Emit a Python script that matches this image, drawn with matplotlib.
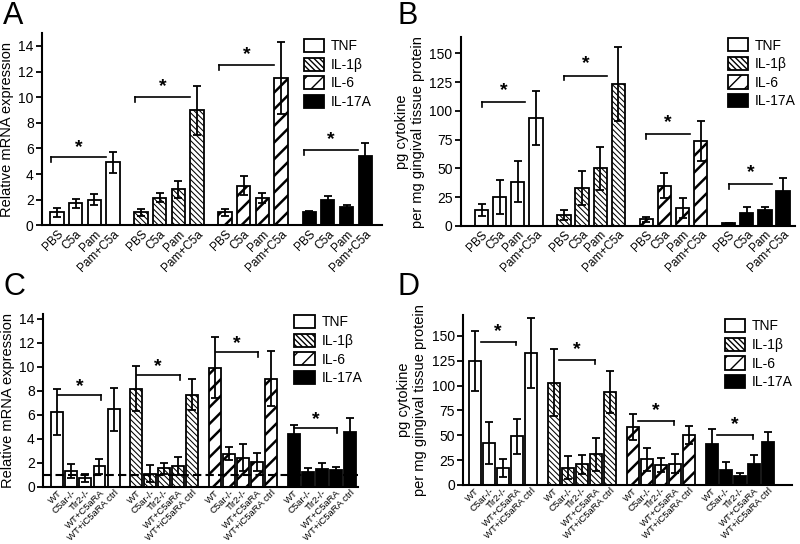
import numpy as np
import matplotlib.pyplot as plt
from matplotlib.patches import Patch

plt.rcParams['font.family'] = ['Liberation Sans', 'DejaVu Sans']

cytokines = ['TNF', 'IL-1\u03b2', 'IL-6', 'IL-17A']
groups_ab = ['PBS', 'C5a', 'Pam', 'Pam+C5a']
groups_cd = ['WT', 'C5ar-/-', 'Tlr2-/-', 'WT+C5aRA', 'WT+iC5aRA ctrl']

# panel A: relative mRNA expression
a_mean = [[1.0, 1.7, 2.0, 4.9], [1.0, 2.15, 2.8, 8.97], [1.0, 3.1, 2.15, 11.5], [1.0, 1.97, 1.45, 5.37]]
a_err = [[0.35, 0.33, 0.4, 0.85], [0.3, 0.35, 0.65, 1.9], [0.3, 0.75, 0.4, 2.85], [0.12, 0.3, 0.15, 1.05]]
a_sig = [5.3, 10.0, 12.5, 5.9]

# panel B: pg cytokine
b_mean = [[13.8, 25, 38.4, 94], [9.5, 33.2, 50, 123.4], [5.8, 35, 15.9, 73.8], [2.3, 11, 13.8, 30.6]]
b_err = [[5, 15, 18, 23.6], [4.3, 14.7, 19, 32], [2.3, 11, 8.6, 17], [0.3, 5.7, 2.9, 11.5]]
b_sig = [107.6, 130.7, 80, 36.6]

# panel C: relative mRNA expression
c_mean = [[6.24, 1.33, 0.75, 1.72, 6.46], [8.18, 1.1, 1.55, 1.72, 7.68],
          [9.93, 2.77, 2.44, 2.08, 9.01], [4.38, 1.25, 1.52, 1.44, 4.57]]
c_err = [[1.9, 0.55, 0.3, 0.65, 1.8], [1.85, 0.7, 0.45, 0.75, 1.3],
         [2.55, 0.55, 1.1, 0.78, 2.3], [0.8, 0.35, 0.5, 0.2, 1.15]]
c_sig = [7.62, 9.3, 11.2, 4.9]

# panel D: pg cytokine
d_mean = [[124.8, 42.6, 16.8, 49, 132.5], [103, 17.4, 20.8, 30.9, 93.6],
          [58.4, 25.8, 20.1, 21.5, 50.7], [41, 14.8, 9.4, 21.5, 43.6]]
d_err = [[30, 21, 9, 17.5, 35], [33.5, 11.7, 9.4, 16.5, 21],
         [12.7, 11.7, 7.4, 9.4, 9], [15.4, 8.4, 2.7, 8.7, 10]]
d_sig = [144.3, 125.8, 64.4, 50.3]

styles = [dict(facecolor='white', hatch=None, hlw=1.0),
          dict(facecolor='white', hatch='\\' * 6, hlw=0.75),
          dict(facecolor='white', hatch='//', hlw=1.8),
          dict(facecolor='black', hatch=None, hlw=1.0)]

fig = plt.figure(figsize=(8, 5.44), dpi=100)


def panel(rect, means, errs, labels, stride, width, xlim, ylim, yticks, ylabel,
          sig, br0, br1, tick_left, tick_len, star_off, leg_xy, dashed=False):
    ax = fig.add_axes(rect)
    ticks = []
    for g in range(4):
        n = len(means[g])
        x = g * stride + np.arange(n)
        st = styles[g]
        with plt.rc_context({'hatch.linewidth': st['hlw']}):
            ax.bar(x, means[g], width, facecolor=st['facecolor'], edgecolor='black',
                   linewidth=1.3, hatch=st['hatch'], zorder=2)
        ax.errorbar(x, means[g], yerr=errs[g], fmt='none', ecolor='black',
                    elinewidth=1.3, capsize=2.6, capthick=1.3, zorder=3)
        ticks.extend(x)
        # significance bracket
        x0, x1, y = g * stride + br0, g * stride + br1, sig[g]
        xt = x0 if tick_left else x1
        ax.plot([x0, x1], [y, y], color='black', lw=1.2, zorder=4)
        ax.plot([xt, xt], [y, y - tick_len], color='black', lw=1.2, zorder=4)
        ax.text((x0 + x1) / 2, y + star_off, '*', ha='center', va='center',
                fontsize=14, fontweight='bold')
    if dashed:
        ax.axhline(1.0, color='black', lw=1.5, ls=(0, (4, 2)), zorder=5)
    ax.set_xticks(ticks)
    ax.set_xticklabels(labels * 4, rotation=45, ha='right', rotation_mode='anchor',
                       fontsize=8.5 if len(labels) == 4 else 6.8)
    ax.tick_params(axis='x', length=0, pad=2 if len(labels) == 4 else 1)
    ax.tick_params(axis='y', length=4, width=1.3, labelsize=10, pad=2)
    ax.set_xlim(xlim)
    ax.set_ylim(ylim)
    ax.set_yticks(yticks)
    ax.set_ylabel(ylabel, fontsize=10.5, labelpad=3)
    for s in ['top', 'right']:
        ax.spines[s].set_visible(False)
    for s in ['left', 'bottom']:
        ax.spines[s].set_linewidth(1.5)
    handles = []
    for st, lab in zip(styles, cytokines):
        with plt.rc_context({'hatch.linewidth': st['hlw']}):
            handles.append(Patch(facecolor=st['facecolor'], edgecolor='black', linewidth=1.3,
                                 hatch=st['hatch'], label=lab))
    ax.legend(handles=handles, loc='upper left', bbox_to_anchor=leg_xy, frameon=False,
              fontsize=10, handlelength=1.45, handleheight=1.1, labelspacing=0.3,
              handletextpad=0.5, borderaxespad=0, borderpad=0)
    return ax


panel([0.0525, 0.586, 0.425, 0.353], a_mean, a_err, groups_ab, 4.5, 0.71, (-0.8, 17.4), (0, 15),
      range(0, 15, 2), 'Relative mRNA expression', a_sig, -0.3, 2.6, True, 0.4, 0.8, (0.77, 0.97))
panel([0.576, 0.5846, 0.4175, 0.347], b_mean, b_err, groups_ab, 4.55, 0.73, (-1.15, 17.3), (0, 164),
      range(0, 151, 25), 'pg cytokine\nper mg gingival tissue protein', b_sig, 0.0, 2.4, True, 4.3, 10,
      (0.80, 0.995))
panel([0.054, 0.1048, 0.394, 0.318], c_mean, c_err, groups_cd, 5.6, 0.85, (-1.0, 21.4), (0, 14.4),
      range(0, 15, 2), 'Relative mRNA expression', c_sig, 0.05, 3.1, False, 0.42, 0.7, (0.797, 0.994),
      dashed=True)
panel([0.579, 0.1085, 0.411, 0.3125], d_mean, d_err, groups_cd, 5.6, 0.85, (-0.83, 22.5), (0, 171),
      range(0, 151, 25), 'pg cytokine\nper mg gingival tissue protein', d_sig, 0.4, 2.9, False, 4, 10,
      (0.796, 0.976))

for lab, x, y in [('A', 0.004, 0.998), ('B', 0.497, 0.998), ('C', 0.004, 0.5), ('D', 0.497, 0.5)]:
    fig.text(x, y, lab, fontsize=22, va='top', ha='left')

fig.savefig('out.png', dpi=100)
